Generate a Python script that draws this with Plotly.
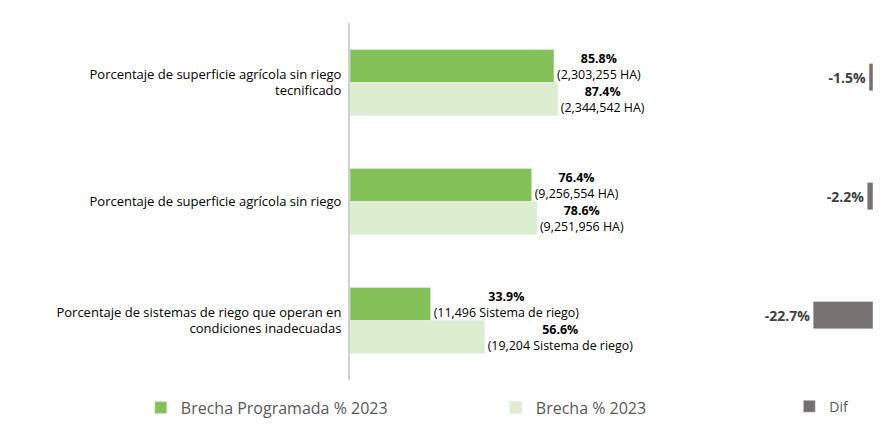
import plotly.graph_objects as go

categorias = ["Porcentaje de superficie agrícola sin riego<br>tecnificado",
              "Porcentaje de superficie agrícola sin riego",
              "Porcentaje de sistemas de riego que operan en<br>condiciones inadecuadas"]
programada = [85.8, 76.4, 33.9]
programada_txt = ["(2,303,255 HA)", "(9,256,554 HA)", "(11,496 Sistema de riego)"]
brecha = [87.4, 78.6, 56.6]
brecha_txt = ["(2,344,542 HA)", "(9,251,956 HA)", "(19,204 Sistema de riego)"]
dif = [-1.5, -2.2, -22.7]

fig = go.Figure()
fig.add_bar(y=categorias, x=programada, orientation="h", name="Brecha Programada % 2023",
            marker_color="#84C259",
            text=[f"<b>{v}%</b><br>{t}" for v, t in zip(programada, programada_txt)],
            textposition="outside", textfont_size=14, cliponaxis=False)
fig.add_bar(y=categorias, x=brecha, orientation="h", name="Brecha % 2023",
            marker_color="#DDEDD0",
            text=[f"<b>{v}%</b><br>{t}" for v, t in zip(brecha, brecha_txt)],
            textposition="outside", textfont_size=14, cliponaxis=False)
fig.add_bar(y=categorias, x=dif, orientation="h", name="Dif", marker_color="#767171",
            xaxis="x2", width=0.23, offset=-0.16, legend="legend2",
            text=[f"<b>{v}%</b>" for v in dif], textposition="outside",
            textfont=dict(size=14, color="#404040"), cliponaxis=False)

fig.update_layout(
    width=888, height=434, barmode="group", bargap=0.445,
    margin=dict(l=342, r=23, t=15, b=62),
    plot_bgcolor="white", paper_bgcolor="white",
    font=dict(family="Open Sans", size=13, color="black"),
    xaxis=dict(domain=[0, 0.75], range=[0, 165], visible=False),
    xaxis2=dict(domain=[0.8, 1], range=[-39.7, 0], visible=False, anchor="y"),
    yaxis=dict(autorange="reversed", showline=True, linecolor="#D0D0D0", linewidth=2,
               ticks="", ticklabelstandoff=4),
    legend=dict(orientation="h", x=-0.4, y=-0.03, yanchor="top", entrywidth=310,
                font=dict(size=16, color="#595959")),
    legend2=dict(orientation="h", x=0.84, y=-0.03, yanchor="top",
                 font=dict(size=14, color="#595959")),
)
fig.write_html("out.html")
